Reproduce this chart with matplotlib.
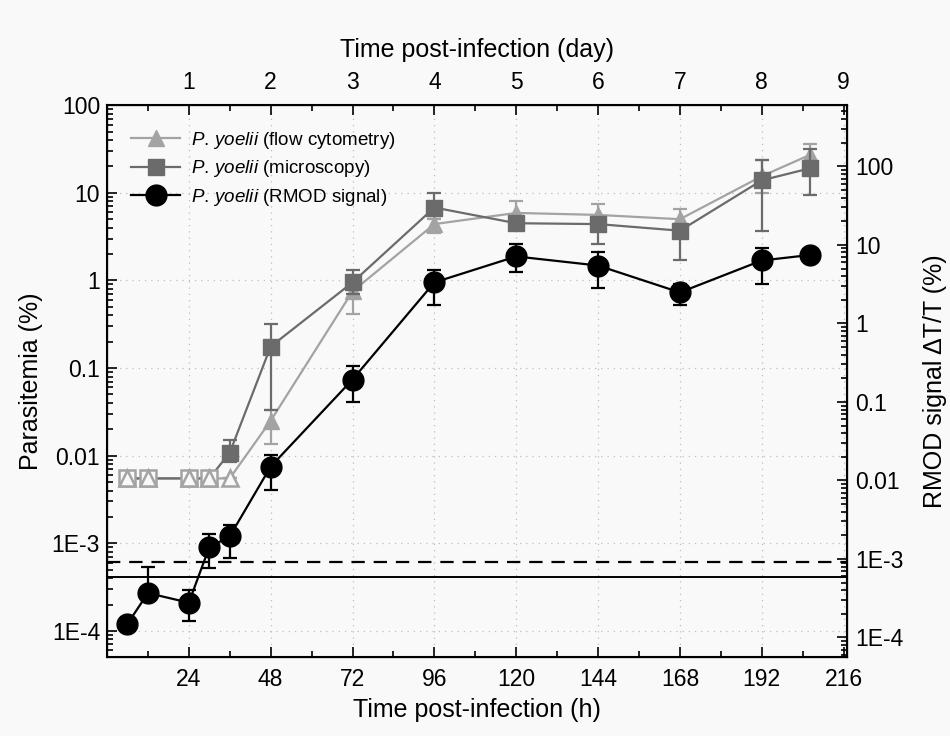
import numpy as np
import matplotlib
matplotlib.use("Agg")
import matplotlib.pyplot as plt
from matplotlib.ticker import FixedLocator, FixedFormatter, LogLocator, NullFormatter

plt.rcParams['font.family'] = ['Liberation Sans', 'DejaVu Sans']
plt.rcParams['mathtext.fontset'] = 'custom'
plt.rcParams['mathtext.it'] = 'Liberation Sans:italic'
plt.rcParams['mathtext.rm'] = 'Liberation Sans'

# time points (h)
hours = [6, 12, 24, 30, 36, 48, 72, 96, 120, 144, 168, 192, 206]

# RMOD signal (black circles)
rmod = [1.2e-4, 2.7e-4, 2.1e-4, 9.0e-4, 1.2e-3, 7.5e-3, 0.074, 0.95, 1.88, 1.48, 0.73, 1.69, 1.95]
rmod_hi = [1.2e-4, 5.4e-4, 2.9e-4, 1.29e-3, 1.6e-3, 1.03e-2, 0.106, 1.33, 2.6, 2.1, 0.9, 2.34, 2.1]
rmod_lo = [1.2e-4, 2.7e-4, 1.3e-4, 5.2e-4, 6.8e-4, 4.1e-3, 0.0415, 0.52, 1.24, 0.81, 0.52, 0.91, 1.8]

# microscopy (dark gray squares)
micro = [0.0055, 0.0055, 0.0055, 0.0055, 0.0108, 0.176, 0.95, 6.8, 4.5, 4.4, 3.7, 13.9, 19.0]
micro_hi = [0.0055, 0.0055, 0.0055, 0.0055, 0.0152, 0.32, 1.33, 10.0, 5.2, 5.0, 4.2, 24.0, 32.0]
micro_lo = [0.0055, 0.0055, 0.0055, 0.0055, 0.0085, 0.033, 0.7, 5.5, 4.0, 2.6, 1.7, 3.7, 9.5]
micro_detected = [False, False, False, False, True, True, True, True, True, True, True, True, True]

# flow cytometry (light gray triangles)
flow = [0.0055, 0.0055, 0.0055, 0.0055, 0.0055, 0.025, 0.75, 4.4, 5.9, 5.6, 5.0, 15.5, 27.0]
flow_hi = [0.0055, 0.0055, 0.0055, 0.0055, 0.0055, 0.0335, 1.0, 5.0, 8.0, 7.5, 6.6, 24.0, 36.0]
flow_lo = [0.0055, 0.0055, 0.0055, 0.0055, 0.0055, 0.0137, 0.41, 3.5, 3.8, 4.3, 4.0, 10.0, 20.0]
flow_detected = [False, False, False, False, False, True, True, True, True, True, True, True, True]

# detection limits
limit_dashed = 6.1e-4
limit_solid = 4.1e-4

left_ticks = [1e-4, 1e-3, 1e-2, 0.1, 1, 10, 100]
left_labels = ['1E-4', '1E-3', '0.01', '0.1', '1', '10', '100']
right_ticks = [1e-4, 1e-3, 1e-2, 0.1, 1, 10, 100]
right_labels = ['1E-4', '1E-3', '0.01', '0.1', '1', '10', '100']
hour_ticks = [24, 48, 72, 96, 120, 144, 168, 192, 216]
day_labels = ['1', '2', '3', '4', '5', '6', '7', '8', '9']

bg = '#f9f9f9'
fig = plt.figure(figsize=(9.5, 7.36), dpi=100, facecolor=bg)
ax = fig.add_axes([0.1126, 0.107, 0.779, 0.750])
ax.set_facecolor(bg)

ax.set_yscale('log')
ax.set_xlim(0, 217)
ax.set_ylim(5e-5, 100)


def draw_series(y, lo, hi, detected, color, marker, ms, label, z, zhollow):
    y = np.array(y)
    yerr = [y - np.array(lo), np.array(hi) - y]
    ax.errorbar(hours, y, yerr=yerr, color=color, lw=1.6, elinewidth=1.6,
                capsize=5, capthick=1.6, fmt='-', zorder=z)
    det = np.array(detected)
    h = np.array(hours)
    ax.plot(h[det], y[det], ls='none', marker=marker, ms=ms, color=color,
            mec=color, zorder=z + 0.5)
    ax.plot(h[~det], y[~det], ls='none', marker=marker, ms=ms, mfc=bg,
            mec='#a3a3a3', mew=1.8, zorder=zhollow)
    ax.plot([], [], '-', color=color, marker=marker, ms=ms, lw=1.6, label=label)


draw_series(flow, flow_lo, flow_hi, flow_detected, '#a3a3a3', '^', 12,
            r'$\it{P.\,yoelii}$ (flow cytometry)', 3, 7)
draw_series(micro, micro_lo, micro_hi, micro_detected, '#6b6b6b', 's', 11,
            r'$\it{P.\,yoelii}$ (microscopy)', 4, 6)
draw_series(rmod, rmod_lo, rmod_hi, [True] * len(rmod), '#000000', 'o', 15,
            r'$\it{P.\,yoelii}$ (RMOD signal)', 5, 8)

ax.axhline(limit_dashed, color='black', lw=1.6, ls=(0, (6, 4)), zorder=2)
ax.axhline(limit_solid, color='black', lw=1.4, zorder=2)

ax.yaxis.set_major_locator(FixedLocator(left_ticks))
ax.yaxis.set_major_formatter(FixedFormatter(left_labels))
ax.yaxis.set_minor_locator(LogLocator(base=10, subs=np.arange(2, 10)))
ax.yaxis.set_minor_formatter(NullFormatter())
ax.set_xticks(hour_ticks)
ax.set_xticks(np.arange(12, 217, 24), minor=True)
ax.tick_params(which='both', direction='in', labelsize=16.5, width=1.2)
ax.tick_params(which='major', length=7)
ax.tick_params(which='minor', length=4)
ax.tick_params(axis='x', pad=8)
ax.tick_params(axis='y', pad=5)
ax.grid(True, which='major', ls=(0, (1, 4)), color='#bdbdbd', lw=0.9)
for sp in ax.spines.values():
    sp.set_linewidth(1.5)

ax.set_xlabel('Time post-infection (h)', fontsize=18, labelpad=5)
ax.set_ylabel('Parasitemia (%)', fontsize=18, labelpad=6)

# right axis
axr = ax.twinx()
axr.set_yscale('log')
axr.set_ylim(5.6e-5, 600)
axr.yaxis.set_major_locator(FixedLocator(right_ticks))
axr.yaxis.set_major_formatter(FixedFormatter(right_labels))
axr.yaxis.set_minor_locator(LogLocator(base=10, subs=np.arange(2, 10)))
axr.yaxis.set_minor_formatter(NullFormatter())
axr.tick_params(which='both', direction='in', labelsize=16.5, width=1.2)
axr.tick_params(which='major', length=7, pad=6)
axr.tick_params(which='minor', length=4)
axr.set_ylabel('RMOD signal ΔT/T (%)', fontsize=18, labelpad=14)

# top axis in days
axt = ax.twiny()
axt.set_xlim(ax.get_xlim())
axt.set_xticks(hour_ticks)
axt.set_xticklabels(day_labels)
axt.set_xticks(np.arange(12, 217, 24), minor=True)
axt.tick_params(which='both', direction='in', labelsize=16.5, width=1.2)
axt.tick_params(which='major', length=7, pad=8)
axt.tick_params(which='minor', length=4)
axt.set_xlabel('Time post-infection (day)', fontsize=18, labelpad=10)

ax.legend(loc='upper left', frameon=False, fontsize=13.5, handlelength=2.6,
          borderaxespad=0.9, labelspacing=0.4, handletextpad=0.6)

fig.savefig('out.png', dpi=100, facecolor=fig.get_facecolor())
